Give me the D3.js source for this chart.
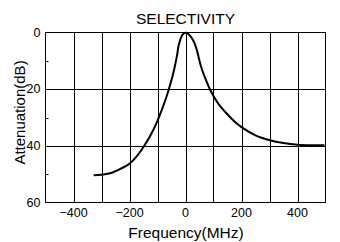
<!DOCTYPE html>
<html><head><meta charset="utf-8">
<script src="https://cdn.jsdelivr.net/npm/d3@7"></script>
<style>body{margin:0;background:#fff}svg{display:block}text{font-family:"Liberation Sans",Arial,sans-serif;fill:#000}</style>
</head><body>
<svg id="c" width="340" height="242"></svg>
<script>
const freq = [-328,-300,-263,-230,-200,-175,-150,-125,-102,-85,-67,-50,-42,-30,-24,-12,-5,3,10,20,29,36,42,49,58,70,88,99,120,147,175,200,250,301,350,401,450,496];
const atten = [50.4,50.2,49.5,48.0,46.3,43.8,40.4,36.3,31.6,27.4,22.4,16.8,13.7,8.0,4.3,1.0,0.2,0.1,0.5,1.6,3.1,4.8,6.7,9.6,12.8,16.0,20.2,22.2,25.5,28.6,31.4,33.4,36.3,38.0,39.0,39.6,39.8,39.8];
const xTicks = [-400,-200,0,200,400];
const xGrid = [-400,-300,-200,-100,0,100,200,300,400];
const yTicks = [0,20,40,60];
const yMinor = [10,30,50];
const title = "SELECTIVITY", xLabel = "Frequency(MHz)", yLabel = "Attenuation(dB)";

const svg = d3.select("#c");
const L=45.5, R=325.5, T=32.5, B=202.5;
const x = d3.scaleLinear().domain([-500,500]).range([L,R]);
const y = d3.scaleLinear().domain([0,60]).range([T,B]);

svg.append("g").selectAll("line").data(xGrid).join("line")
  .attr("x1",d=>Math.round(x(d))+0.5).attr("x2",d=>Math.round(x(d))+0.5).attr("y1",T).attr("y2",B)
  .attr("stroke","#000").attr("stroke-width",1);
svg.append("g").selectAll("line").data([20,40]).join("line")
  .attr("y1",d=>Math.round(y(d))+0.5).attr("y2",d=>Math.round(y(d))+0.5).attr("x1",L).attr("x2",R)
  .attr("stroke","#000").attr("stroke-width",1);
svg.append("g").selectAll("line").data(yMinor).join("line")
  .attr("y1",d=>Math.round(y(d))+0.5).attr("y2",d=>Math.round(y(d))+0.5).attr("x1",L).attr("x2",L+3)
  .attr("stroke","#000").attr("stroke-width",1);
svg.append("rect").attr("x",L).attr("y",T).attr("width",R-L).attr("height",B-T)
  .attr("fill","none").attr("stroke","#000").attr("stroke-width",1);

svg.append("g").selectAll("text").data(xTicks).join("text")
  .attr("x",d=>x(d)).attr("y",216.5).attr("text-anchor","middle").attr("font-size",12.5)
  .text(d=>d<0?"\u2212"+Math.abs(d):d);
svg.append("g").selectAll("text").data(yTicks).join("text")
  .attr("x",40.5).attr("y",d=>y(d)+4).attr("text-anchor","end").attr("font-size",12.5)
  .text(d=>d);

const line = d3.line().x((d,i)=>x(freq[i])).y(d=>y(d)).curve(d3.curveCatmullRom);
svg.append("path").attr("d",line(atten)).attr("fill","none").attr("stroke","#000").attr("stroke-width",2);

svg.append("text").attr("x",185.5).attr("y",23.5).attr("text-anchor","middle").attr("font-size",15.5).text(title);
svg.append("text").attr("x",186).attr("y",238).attr("text-anchor","middle").attr("font-size",15.5).text(xLabel);
svg.append("text").attr("transform","translate(24.5,112.5) rotate(-90)").attr("text-anchor","middle").attr("font-size",15).text(yLabel);
</script>
</body></html>
